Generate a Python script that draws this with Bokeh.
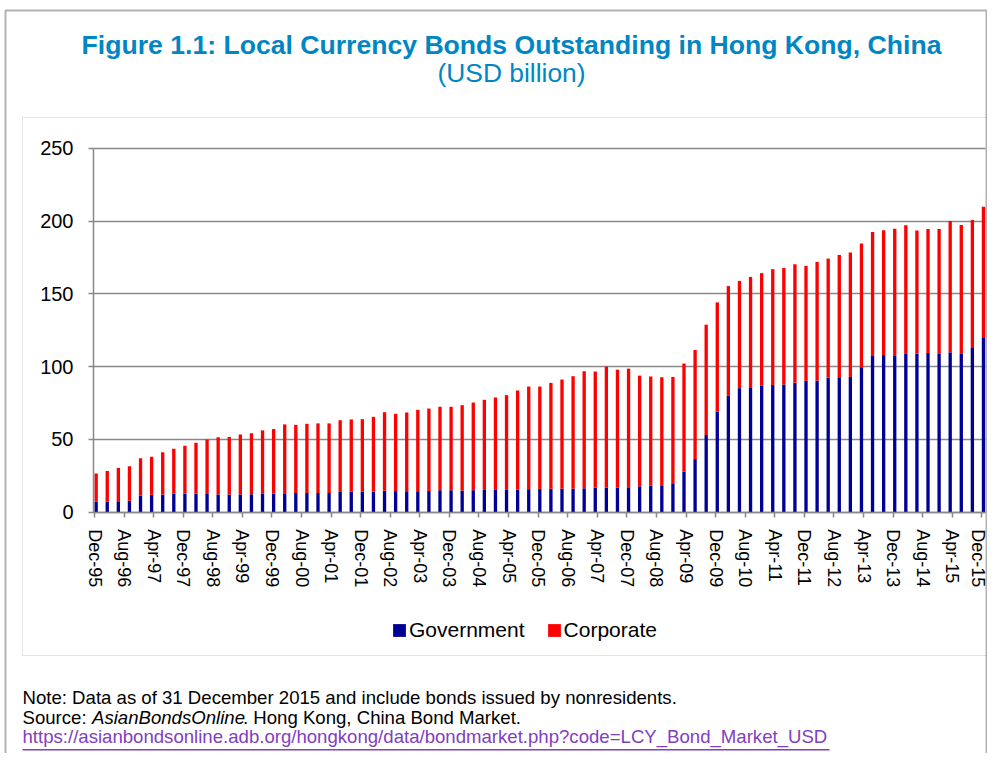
from bokeh.plotting import figure
from bokeh.models import (ColumnDataSource, Range1d, FixedTicker, Label, BoxAnnotation,
                          Legend, LegendItem, LinearAxis, Grid)
from bokeh.embed import file_html
from bokeh.resources import INLINE

# ---------------- data (USD billion, quarterly Dec-95 .. Dec-15) ----------------
government = [7.1, 7.3, 7.5, 7.8, 11.4, 11.9, 12.1, 12.8, 12.8, 12.8,
              13.0, 12.1, 12.1, 12.1, 12.3, 12.6, 12.8, 13.0, 13.2, 13.2,
              13.2, 13.2, 13.9, 14.2, 14.2, 14.2, 14.8, 14.5, 14.4, 14.4,
              14.6, 15.1, 15.1, 14.8, 15.1, 15.3, 15.3, 15.3, 15.5, 15.8,
              16.0, 16.1, 16.2, 16.2, 16.4, 16.9, 16.9, 16.9, 17.1, 17.8,
              18.3, 18.5, 19.9, 27.9, 36.5, 53.0, 69.2, 79.9, 85.2, 85.8,
              86.8, 87.4, 87.7, 89.0, 90.2, 90.4, 92.5, 92.7, 92.9, 99.5,
              107.3, 108.0, 107.3, 108.7, 108.9, 109.4, 108.7, 109.8, 108.7, 112.8,
              119.6]
corporate = [19.4, 21.0, 22.9, 23.7, 25.6, 26.2, 29.0, 30.8, 32.9, 34.9,
             37.0, 39.3, 39.5, 41.3, 42.0, 43.6, 44.3, 47.3, 46.8, 47.5,
             47.8, 47.8, 49.3, 49.5, 49.7, 51.3, 53.9, 53.1, 54.1, 55.9,
             56.6, 57.3, 57.3, 58.7, 60.2, 61.9, 63.5, 65.1, 68.1, 70.5,
             70.3, 72.7, 74.9, 77.2, 80.4, 79.7, 83.1, 81.0, 81.5, 76.0,
             74.9, 74.2, 73.0, 74.2, 74.9, 75.8, 74.9, 75.4, 73.7, 75.8,
             77.4, 79.5, 80.1, 81.3, 79.0, 81.5, 81.7, 84.0, 85.5, 85.0,
             85.2, 85.6, 87.4, 88.3, 84.5, 85.1, 85.8, 90.2, 88.6, 87.9,
             90.2]
tick_labels = ["Dec-95", "Aug-96", "Apr-97", "Dec-97", "Aug-98", "Apr-99", "Dec-99",
               "Aug-00", "Apr-01", "Dec-01", "Aug-02", "Apr-03", "Dec-03", "Aug-04",
               "Apr-05", "Dec-05", "Aug-06", "Apr-07", "Dec-07", "Aug-08", "Apr-09",
               "Dec-09", "Aug-10", "Apr-11", "Dec-11", "Aug-12", "Apr-13", "Dec-13",
               "Aug-14", "Apr-15", "Dec-15"]
y_ticks = [0, 50, 100, 150, 200, 250]
series_names = ["Government", "Corporate"]
series_colors = ["#000096", "#FF0000"]

title_text = "Figure 1.1: Local Currency Bonds Outstanding in Hong Kong, China"
subtitle_text = "(USD billion)"
note_text = "Note: Data as of 31 December 2015 and include bonds issued by nonresidents."
source_parts = ["Source: ", "AsianBondsOnline", ". Hong Kong, China Bond Market."]
url_text = "https://asianbondsonline.adb.org/hongkong/data/bondmarket.php?code=LCY_Bond_Market_USD"

MONTH_NAMES = ["Jan", "Feb", "Mar", "Apr", "May", "Jun", "Jul", "Aug", "Sep",
               "Oct", "Nov", "Dec"]
# months since Dec-95 for each quarterly observation
months = [3 * i for i in range(len(government))]
quarters = ["%s-%02d" % (MONTH_NAMES[(11 + m) % 12], (1995 + (11 + m) // 12) % 100)
            for m in months]

# ---------------- layout constants (pixels of the figure) ----------------
W, H = 987, 753
FL, FR, FT, FB = 93.0, 985.0, 147.7, 511.7      # chart area inside the canvas
X0, X1 = -0.27, 241.0                            # chart x extent (months)
Y0, Y1 = 0.0, 250.0
KX = (FR - FL) / (X1 - X0)
KY = (FB - FT) / (Y1 - Y0)
XS, XE = X0 - FL / KX, X1 + (W - FR) / KX
YS, YE = Y0 - (H - FB) / KY, Y1 + FT / KY
TXT_DY = 8   # label baselines render this much lower than requested

FONT = "Liberation Sans"
GRID = "#898989"


def xd(px):
    return XS + px / KX


def yd(py):
    return YE - py / KY


def yt(py):
    return yd(py - TXT_DY)


source = ColumnDataSource(dict(x=[m + 0.45 for m in months], quarter=quarters,
                               Government=government, Corporate=corporate))

p = figure(width=W, height=H, output_backend="svg", toolbar_location=None,
           x_range=Range1d(XS, XE), y_range=Range1d(YS, YE),
           x_axis_type=None, y_axis_type=None,
           min_border_left=0, min_border_right=0, min_border_top=0, min_border_bottom=0)
p.background_fill_color = "white"
p.border_fill_color = "white"
p.outline_line_color = None

# frames
p.add_layout(BoxAnnotation(left=xd(22), right=xd(1010), top=yd(117), bottom=yd(655),
                           fill_color=None, fill_alpha=0, line_color="#A6A6A6",
                           line_width=1, level="underlay"))
p.add_layout(BoxAnnotation(left=xd(5), right=xd(986), top=yd(10), bottom=yd(790),
                           fill_color=None, fill_alpha=0, line_color="black",
                           line_width=2, level="underlay"))

# axes placed at fixed data locations
xaxis = LinearAxis(fixed_location=0, bounds=(X0, X1),
                   ticker=FixedTicker(ticks=[8 * i for i in range(len(tick_labels))]))
xaxis.major_label_overrides = {8 * i: lab for i, lab in enumerate(tick_labels)}
xaxis.major_label_orientation = "vertical"
yaxis = LinearAxis(fixed_location=X0, bounds=(Y0, Y1), ticker=FixedTicker(ticks=y_ticks))
for ax, size, standoff in ((xaxis, "18px", 12), (yaxis, "20px", 15)):
    ax.minor_tick_line_color = None
    ax.major_tick_out = 5
    ax.major_tick_in = 0
    ax.axis_line_color = GRID
    ax.axis_line_width = 1.5
    ax.major_tick_line_color = GRID
    ax.major_tick_line_width = 1.5
    ax.major_label_text_font = FONT
    ax.major_label_text_font_size = size
    ax.major_label_text_color = "black"
    ax.major_label_standoff = standoff

ygrid = Grid(dimension=1, ticker=yaxis.ticker, grid_line_color=GRID, grid_line_width=1.5,
             level="underlay")
try:
    ygrid.cross_bounds = (X0, X1)
    p.add_layout(ygrid)
except AttributeError:
    p.segment(x0=[X0] * len(y_ticks), x1=[X1] * len(y_ticks), y0=y_ticks, y1=y_ticks,
              line_color=GRID, line_width=1.5, level="underlay")

rs = p.vbar_stack(series_names, x="x", width=0.9, fill_color=series_colors,
                  line_color=None, source=source)

p.add_layout(xaxis, "below")
p.add_layout(yaxis, "left")

# legend
legend = Legend(items=[LegendItem(label=series_names[0], renderers=[rs[0]]),
                       LegendItem(label=series_names[1], renderers=[rs[1]])],
                orientation="horizontal", location=(391, 111),
                glyph_width=16, glyph_height=16, label_standoff=2, spacing=21,
                padding=0, margin=0, border_line_color=None, background_fill_alpha=0,
                label_text_font=FONT, label_text_font_size="21px",
                label_text_color="black", label_height=16)
p.add_layout(legend)

# titles
TITLE_COLOR = "#0086C3"
p.add_layout(Label(x=xd(511), y=yt(52), text=title_text, text_align="center",
                   text_baseline="alphabetic", text_font=FONT, text_font_size="26.6px",
                   text_font_style="bold", text_color=TITLE_COLOR))
p.add_layout(Label(x=xd(511), y=yt(80), text=subtitle_text, text_align="center",
                   text_baseline="alphabetic", text_font=FONT, text_font_size="26.4px",
                   text_color=TITLE_COLOR))

# footer
FOOT = "18.6px"
p.add_layout(Label(x=xd(22), y=yt(705), text=note_text, text_baseline="alphabetic",
                   text_font=FONT, text_font_size=FOOT, text_color="black"))
p.add_layout(Label(x=xd(22), y=yt(725), text=source_parts[0], text_baseline="alphabetic",
                   text_font=FONT, text_font_size=FOOT, text_color="black"))
p.add_layout(Label(x=xd(91.5), y=yt(725), text=source_parts[1], text_baseline="alphabetic",
                   text_font=FONT, text_font_size=FOOT, text_font_style="italic",
                   text_color="black"))
p.add_layout(Label(x=xd(242.5), y=yt(725), text=source_parts[2], text_baseline="alphabetic",
                   text_font=FONT, text_font_size=FOOT, text_color="black"))
URL_COLOR = "#8040C0"
p.add_layout(Label(x=xd(22), y=yt(744), text=url_text, text_baseline="alphabetic",
                   text_font=FONT, text_font_size=FOOT, text_color=URL_COLOR))
p.add_layout(BoxAnnotation(left=xd(22), right=xd(829), top=yd(748.5), bottom=yd(750),
                           fill_color=URL_COLOR, fill_alpha=1, line_color=None))

open("out.html", "w").write(file_html(p, INLINE))
